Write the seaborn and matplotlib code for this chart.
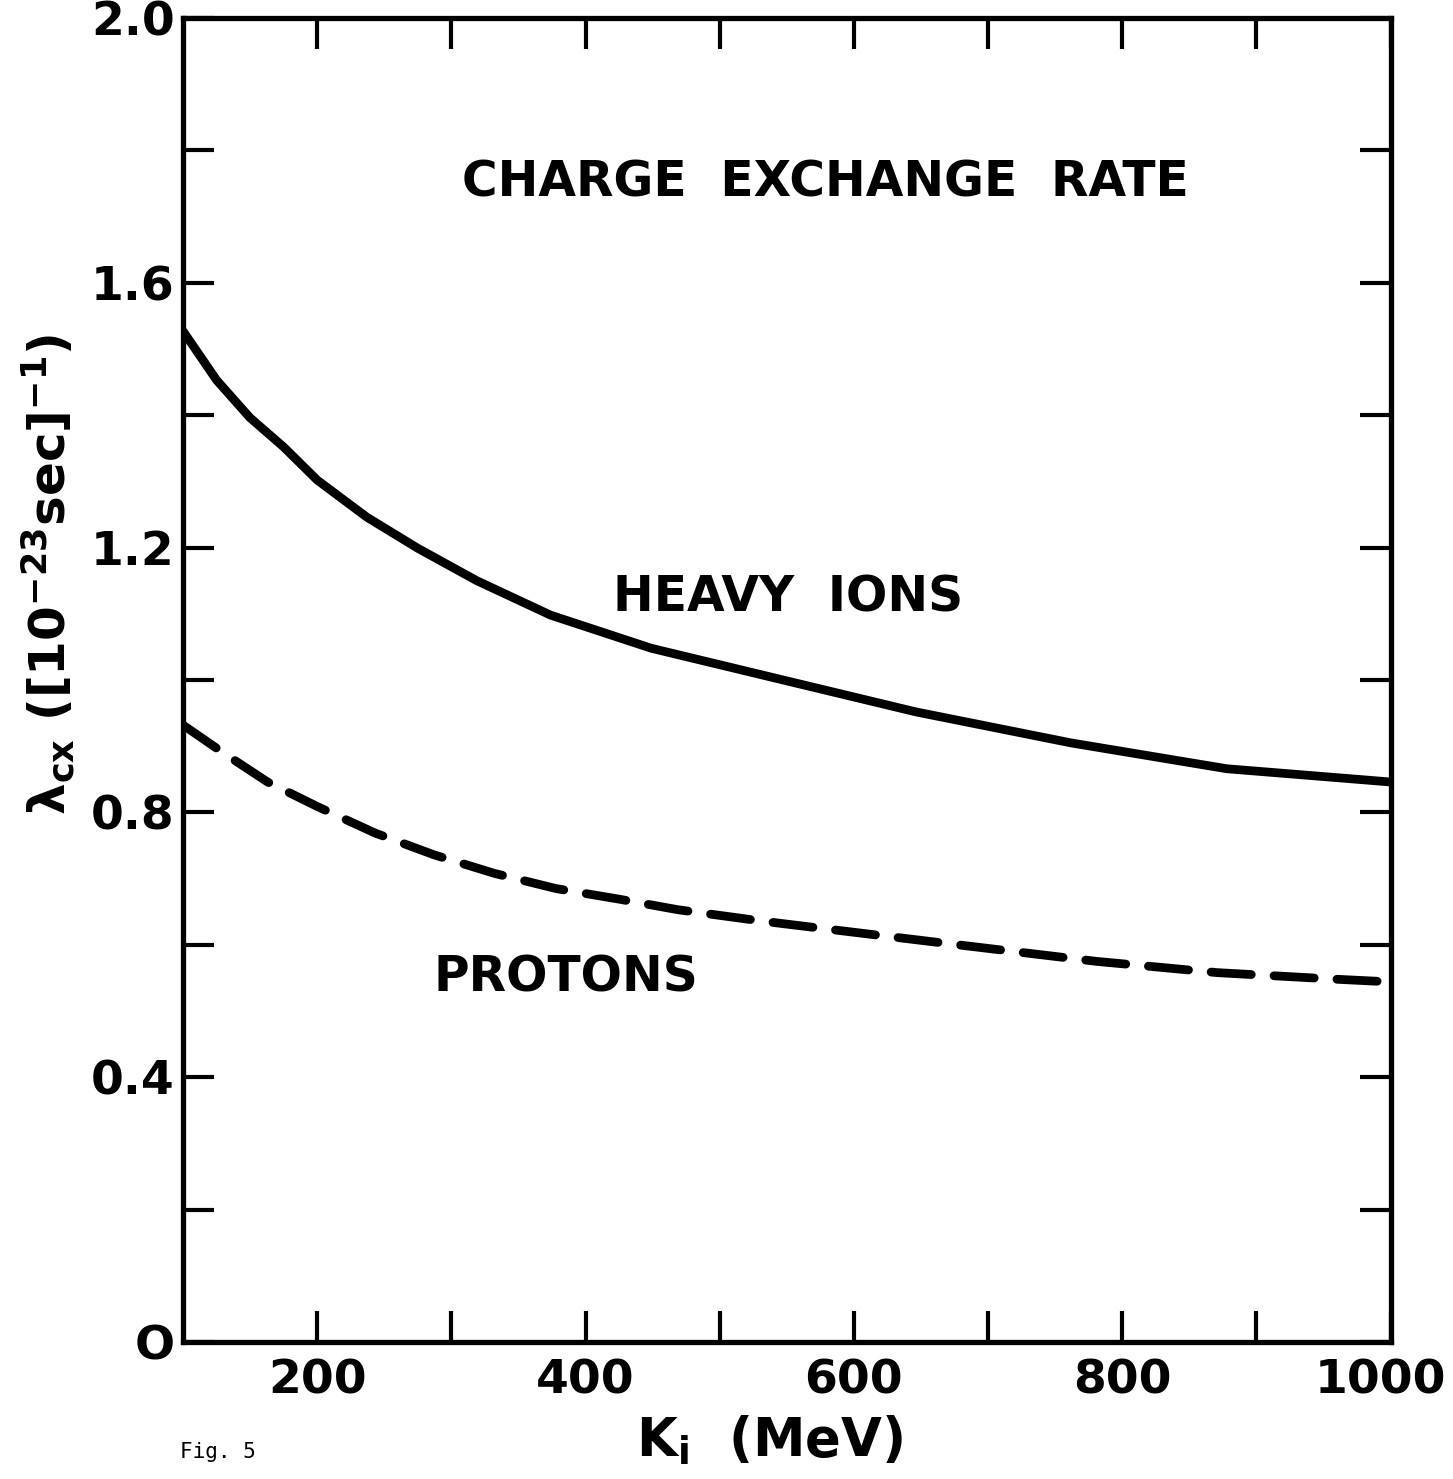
import seaborn as sns
import matplotlib.pyplot as plt
import matplotlib.transforms as mtransforms
import pandas as pd
import numpy as np

# values
ki_heavy = [100, 125, 150, 175, 200, 237, 275, 319, 374, 449, 531, 646, 762, 878, 1000]
rate_heavy = [1.527, 1.453, 1.396, 1.352, 1.302, 1.246, 1.199, 1.150, 1.098, 1.048, 1.008, 0.952, 0.905, 0.866, 0.846]

ki_protons = [100, 130, 163, 200, 243, 287, 332, 378, 425, 469, 531, 600, 686, 781, 871, 960, 1000]
rate_protons = [0.932, 0.890, 0.846, 0.809, 0.769, 0.736, 0.708, 0.685, 0.669, 0.653, 0.636, 0.619, 0.598, 0.575, 0.558, 0.548, 0.544]

x_ticklabels = ['200', '400', '600', '800', '1000']
y_ticklabels = ['O', '0.4', '0.8', '1.2', '1.6', '2.0']

sns.set_style('ticks')
plt.rcParams['font.family'] = ['DejaVu Sans']
plt.rcParams['font.weight'] = 'bold'
plt.rcParams['axes.labelweight'] = 'bold'
for k in ['text.color', 'axes.labelcolor', 'xtick.color', 'ytick.color', 'axes.edgecolor']:
    plt.rcParams[k] = 'black'

fig = plt.figure(figsize=(14.53, 14.79), dpi=100)
ax = fig.add_axes([0.126, 0.0926, 0.831, 0.8952])

df_h = pd.DataFrame({'Ki': ki_heavy, 'rate': rate_heavy})
df_p = pd.DataFrame({'Ki': ki_protons, 'rate': rate_protons})

sns.lineplot(data=df_h, x='Ki', y='rate', ax=ax, color='black', linewidth=6.3,
             solid_capstyle='round', solid_joinstyle='round')
sns.lineplot(data=df_p, x='Ki', y='rate', ax=ax, color='black', linewidth=6.3,
             linestyle=(0, (4.6, 2.6)), dash_capstyle='round', dash_joinstyle='round')

ax.set_xlim(100, 1000)
ax.set_ylim(0, 2.0)

ax.set_xticks(np.arange(200, 1001, 200))
ax.set_xticklabels(x_ticklabels)
ax.set_xticks(np.arange(300, 1000, 200), minor=True)
ax.set_yticks(np.arange(0, 2.01, 0.4))
ax.set_yticklabels(y_ticklabels)
ax.set_yticks(np.arange(0.2, 2.0, 0.4), minor=True)

for side in ['left', 'right', 'top', 'bottom']:
    ax.spines[side].set_linewidth(3.8)

ax.tick_params(which='both', direction='in', top=True, right=True,
               length=22, width=3)
ax.tick_params(which='major', labelsize=34, pad=12)
ax.tick_params(axis='y', which='major', pad=6)

# keep "1000" inside the canvas
last = ax.get_xticklabels()[-1]
last.set_transform(last.get_transform() + mtransforms.ScaledTranslation(-0.1, 0, fig.dpi_scale_trans))

ax.set_xlabel('K$_\\mathbf{i}$  (MeV)', fontsize=38)
ax.xaxis.set_label_coords(0.486, -0.054)
ax.set_ylabel('λ$_\\mathbf{cx}$ ([10$^\\mathbf{-23}$sec]$^\\mathbf{-1}$)', fontsize=36)
ax.yaxis.set_label_coords(-0.088, 0.58)

ax.text(579, 1.751, 'CHARGE  EXCHANGE  RATE', fontsize=35, ha='center', va='center')
ax.text(551, 1.124, 'HEAVY  IONS', fontsize=35, ha='center', va='center')
ax.text(385, 0.55, 'PROTONS', fontsize=35, ha='center', va='center')

fig.text(0.124, 0.018, 'Fig. 5', fontsize=15, family='DejaVu Sans Mono',
         fontweight='normal', va='center')

fig.savefig('out.png', dpi=100, facecolor='white')
